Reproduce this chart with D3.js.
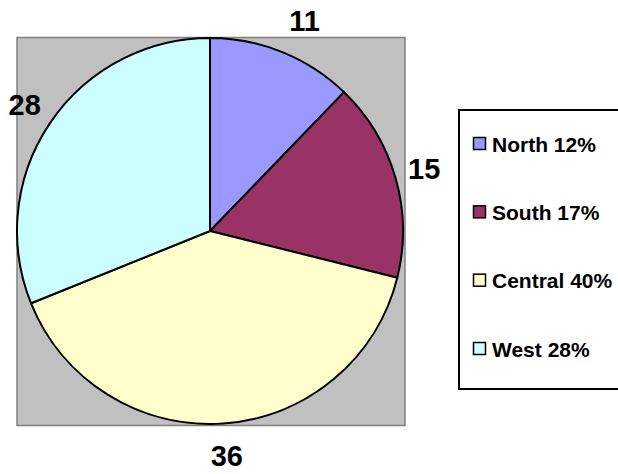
<!DOCTYPE html>
<html><head><meta charset="utf-8">
<script src="https://cdn.jsdelivr.net/npm/d3@7"></script>
<style>html,body{margin:0;padding:0;background:#fff;}svg{display:block;}</style>
</head><body>
<svg id="c" width="618" height="474"></svg>
<script>
const categories = ["North", "South", "Central", "West"];
const values = [11, 15, 36, 28];
const legendPercents = ["12%", "17%", "40%", "28%"];
const colors = ["#9999FF", "#993366", "#FFFFCC", "#CCFFFF"];

const svg = d3.select("#c");
const cx = 210, cy = 231, r = 193;
const font = "Liberation Sans, Arial, Helvetica, sans-serif";

// plot area
svg.append("rect").attr("x", 17).attr("y", 37.5).attr("width", 388).attr("height", 388)
  .attr("fill", "#C0C0C0").attr("stroke", "#808080").attr("stroke-width", 1.5);

const data = categories.map((c, i) => ({cat: c, value: values[i], color: colors[i], pct: legendPercents[i]}));
const pie = d3.pie().value(d => d.value).sort(null);
const arcs = pie(data);
const arc = d3.arc().innerRadius(0).outerRadius(r);
const g = svg.append("g").attr("transform", `translate(${cx},${cy})`);
g.selectAll("path").data(arcs).join("path")
  .attr("d", arc).attr("fill", d => d.data.color)
  .attr("stroke", "#000").attr("stroke-width", 2).attr("stroke-linejoin", "round");

const labelArc = d3.arc().innerRadius(226).outerRadius(226);
const nudge = [[10, 0], [-3, 0], [1, 0], [2, 0]];
g.selectAll("text.lbl").data(arcs).join("text").attr("class", "lbl")
  .attr("x", d => labelArc.centroid(d)[0] + nudge[d.index][0])
  .attr("y", d => labelArc.centroid(d)[1] + 10 + nudge[d.index][1])
  .attr("text-anchor", "middle")
  .attr("font-family", font).attr("font-weight", "bold").attr("font-size", 29)
  .attr("fill", "#000")
  .text(d => d.data.value);

// legend
svg.append("rect").attr("x", 459).attr("y", 110).attr("width", 170).attr("height", 279)
  .attr("fill", "#fff").attr("stroke", "#000").attr("stroke-width", 2);
const ly = d3.scalePoint().domain(categories).range([144, 349]);
const lg = svg.selectAll("g.leg").data(data).join("g").attr("class", "leg")
  .attr("transform", d => `translate(473,${ly(d.cat)})`);
lg.append("rect").attr("x", 0.5).attr("y", -6.5).attr("width", 12).attr("height", 12)
  .attr("fill", d => d.color).attr("stroke", "#000").attr("stroke-width", 1.5);
lg.append("text").attr("x", 19).attr("y", 7.5)
  .attr("font-family", font).attr("font-weight", "bold").attr("font-size", 21)
  .attr("fill", "#000")
  .text(d => `${d.cat} ${d.pct}`);
</script>
</body></html>
